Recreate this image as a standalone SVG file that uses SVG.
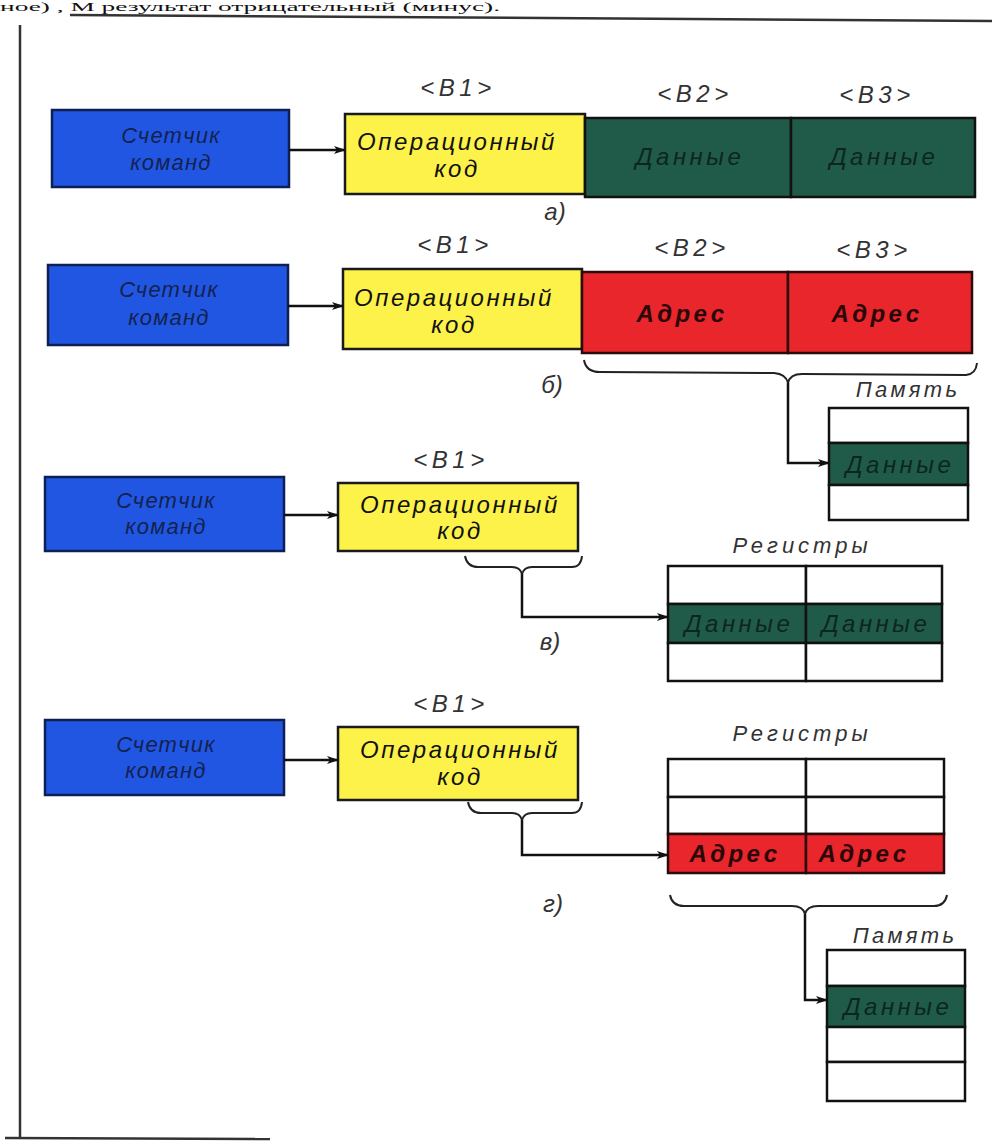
<svg xmlns="http://www.w3.org/2000/svg" width="992" height="1144" viewBox="0 0 992 1144">
<style>
.bg{fill:#ffffff}
.blue{fill:#2156e3;stroke:#0d1f55;stroke-width:2.5}
.yel{fill:#fdf24a;stroke:#1a1a1a;stroke-width:2.5}
.grn{fill:#1f5b48;stroke:#111;stroke-width:2.5}
.red{fill:#e8262b;stroke:#2a0a0a;stroke-width:2.5}
.cell{fill:#ffffff;stroke:#111;stroke-width:2.5}
.ln{fill:none;stroke:#111;stroke-width:2.5}
.frame{fill:none;stroke:#333;stroke-width:2.5}
.brace{fill:none;stroke:#222;stroke-width:2}
text{font-family:"Liberation Sans","DejaVu Sans",sans-serif;font-style:italic}
.tb{font-size:22px;letter-spacing:1.2px;fill:#14224f;text-anchor:middle}
.ty{font-size:24px;letter-spacing:2.5px;fill:#111;text-anchor:middle}
.tg{font-size:24px;letter-spacing:3.5px;fill:#0c261e;text-anchor:middle}
.tr{font-size:24px;letter-spacing:3.4px;fill:#2a0808;text-anchor:middle;font-weight:bold}
.lab{font-size:24px;letter-spacing:4.5px;fill:#333;text-anchor:middle}
.mem{font-size:22px;letter-spacing:3.3px;fill:#333;text-anchor:middle}
.reg{font-size:22px;letter-spacing:4px;fill:#333;text-anchor:middle}
.cap{font-size:24px;fill:#333;text-anchor:middle}
</style>
<defs>
<marker id="arr" markerWidth="12" markerHeight="10" refX="11" refY="5" orient="auto" markerUnits="userSpaceOnUse">
<path d="M0,1 L12,5 L0,9 L3,5 Z" fill="#111"/>
</marker>
</defs>
<rect class="bg" x="0" y="0" width="992" height="1144"/>
<text x="0" y="11" style="font-family:'Liberation Serif',serif;font-style:normal;font-size:13px;fill:#111" textLength="500" lengthAdjust="spacingAndGlyphs">ное) , М  результат отрицательный (минус).</text>
<g id="frame">
<path class="frame" d="M70,15 L992,21"/>
<path class="frame" d="M20,25 L20,1137"/>
<path class="frame" d="M5,1138 L270,1139"/>
</g>

<!-- Row a -->
<g id="a-counter"><rect class="blue" x="52" y="110" width="237" height="77"/><text class="tb" x="171" y="143">Счетчик</text><text class="tb" x="171" y="170">команд</text></g>
<g id="a-opcode"><rect class="yel" x="345" y="114" width="240" height="80"/><text class="ty" x="457" y="150">Операционный</text><text class="ty" x="457" y="177">код</text></g>
<g id="a-data1"><rect class="grn" x="585" y="118" width="206" height="79"/><text class="tg" x="690" y="165">Данные</text></g>
<g id="a-data2"><rect class="grn" x="791" y="118" width="184" height="79"/><text class="tg" x="884" y="165">Данные</text></g>
<text class="lab" x="458" y="96">&lt;B1&gt;</text>
<text class="lab" x="695" y="102">&lt;B2&gt;</text>
<text class="lab" x="877" y="103">&lt;B3&gt;</text>
<text class="cap" x="555" y="220">а)</text>

<!-- Row b -->
<g id="b-counter"><rect class="blue" x="48" y="265" width="240" height="80"/><text class="tb" x="169" y="297">Счетчик</text><text class="tb" x="169" y="325">команд</text></g>
<g id="b-opcode"><rect class="yel" x="343" y="269" width="239" height="80"/><text class="ty" x="454" y="306">Операционный</text><text class="ty" x="454" y="333">код</text></g>
<g id="b-addr1"><rect class="red" x="582" y="272" width="206" height="81"/><text class="tr" x="682" y="322">Адрес</text></g>
<g id="b-addr2"><rect class="red" x="788" y="272" width="184" height="81"/><text class="tr" x="877" y="322">Адрес</text></g>
<text class="lab" x="455" y="253">&lt;B1&gt;</text>
<text class="lab" x="692" y="256">&lt;B2&gt;</text>
<text class="lab" x="874" y="258">&lt;B3&gt;</text>
<text class="cap" x="552" y="393">б)</text>
<text class="mem" x="908" y="397">Память</text>
<g id="b-memory">
<rect class="cell" x="829" y="408" width="139" height="35"/>
<rect class="grn" x="829" y="443" width="139" height="42"/>
<rect class="cell" x="829" y="485" width="139" height="35"/>
<text class="tg" x="900" y="473">Данные</text>
</g>

<!-- Row v -->
<g id="v-counter"><rect class="blue" x="45" y="477" width="239" height="74"/><text class="tb" x="166" y="508">Счетчик</text><text class="tb" x="166" y="534">команд</text></g>
<g id="v-opcode"><rect class="yel" x="338" y="483" width="240" height="68"/><text class="ty" x="460" y="513">Операционный</text><text class="ty" x="460" y="539">код</text></g>
<text class="lab" x="451" y="468">&lt;B1&gt;</text>
<text class="cap" x="550" y="650">в)</text>
<text class="reg" x="802" y="553">Регистры</text>
<g id="v-registers">
<rect class="cell" x="668" y="566" width="138" height="38"/>
<rect class="cell" x="806" y="566" width="136" height="38"/>
<rect class="grn" x="668" y="604" width="138" height="39"/>
<rect class="grn" x="806" y="604" width="136" height="39"/>
<rect class="cell" x="668" y="643" width="138" height="38"/>
<rect class="cell" x="806" y="643" width="136" height="38"/>
<text class="tg" x="739" y="632">Данные</text>
<text class="tg" x="876" y="632">Данные</text>
</g>

<!-- Row g -->
<g id="g-counter"><rect class="blue" x="45" y="720" width="239" height="75"/><text class="tb" x="166" y="752">Счетчик</text><text class="tb" x="166" y="778">команд</text></g>
<g id="g-opcode"><rect class="yel" x="338" y="727" width="240" height="73"/><text class="ty" x="460" y="758">Операционный</text><text class="ty" x="460" y="785">код</text></g>
<text class="lab" x="451" y="712">&lt;B1&gt;</text>
<text class="cap" x="553" y="912">г)</text>
<text class="reg" x="802" y="741">Регистры</text>
<g id="g-registers">
<rect class="cell" x="668" y="759" width="138" height="38"/>
<rect class="cell" x="806" y="759" width="138" height="38"/>
<rect class="cell" x="668" y="797" width="138" height="37"/>
<rect class="cell" x="806" y="797" width="138" height="37"/>
<rect class="red" x="668" y="834" width="138" height="39"/>
<rect class="red" x="806" y="834" width="138" height="39"/>
<text class="tr" x="735" y="862">Адрес</text>
<text class="tr" x="864" y="862">Адрес</text>
</g>
<text class="mem" x="905" y="943">Память</text>
<g id="g-memory">
<rect class="cell" x="827" y="950" width="138" height="36"/>
<rect class="grn" x="827" y="986" width="138" height="41"/>
<rect class="cell" x="827" y="1027" width="138" height="35"/>
<rect class="cell" x="827" y="1062" width="138" height="39"/>
<text class="tg" x="898" y="1015">Данные</text>
</g>

<g id="connectors">
<path class="ln" d="M289,150 L345,150" marker-end="url(#arr)"/>
<path class="ln" d="M288,306 L343,306" marker-end="url(#arr)"/>
<path class="ln" d="M284,515 L338,515" marker-end="url(#arr)"/>
<path class="ln" d="M284,760 L338,760" marker-end="url(#arr)"/>
<path class="brace" d="M584,360 Q586,372 600,372 L774,373 Q786,374 788,383 Q790,374 802,374 L966,375 Q976,374 977,363"/>
<path class="brace" d="M465,556 Q467,567 478,567 L512,567 Q520,567 522,574 Q524,567 532,567 L572,567 Q581,567 582,556"/>
<path class="brace" d="M468,802 Q470,813 481,813 L512,813 Q520,813 522,820 Q524,813 532,813 L572,813 Q581,813 582,802"/>
<path class="brace" d="M670,895 Q672,906 684,906 L792,906 Q803,906 805,914 Q807,906 818,906 L934,906 Q945,906 947,895"/>
<path class="ln" d="M788,383 L788,463 L829,463" marker-end="url(#arr)"/>
<path class="ln" d="M522,574 L522,617 L668,617" marker-end="url(#arr)"/>
<path class="ln" d="M522,820 L522,855 L668,855" marker-end="url(#arr)"/>
<path class="ln" d="M805,914 L805,1000 L827,1000" marker-end="url(#arr)"/>
</g>
</svg>
